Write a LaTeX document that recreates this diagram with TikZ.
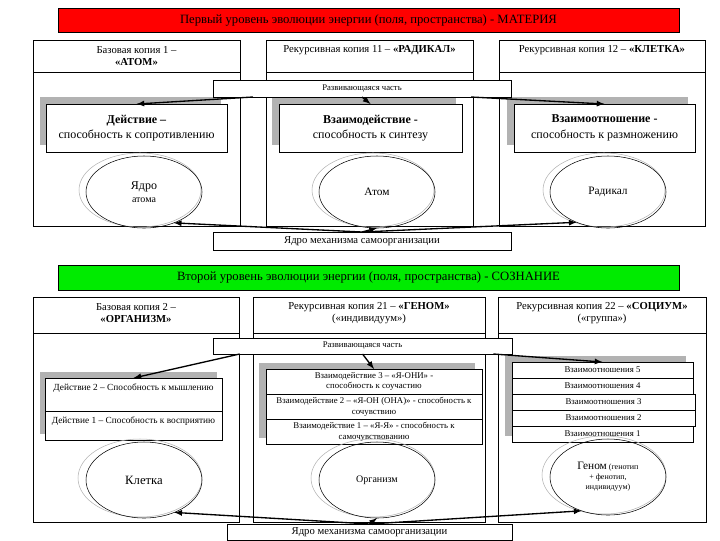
\documentclass[tikz,border=0pt]{standalone}
\usepackage{fontspec}
\setmainfont{Liberation Serif}
\usetikzlibrary{shapes.geometric}

\begin{document}
\begin{tikzpicture}[x=0.75pt,y=-0.75pt,
  box/.style={draw, fill=white, inner sep=0pt, outer sep=0pt, align=center},
  shade/.style={fill=black!30},
  halo/.style={draw=black!30},
  oval/.style={draw, ellipse, inner sep=0pt, outer sep=0pt, align=center,
    minimum width=116*0.75pt, minimum height=72*0.75pt},
  link/.style={-latex, line width=1pt},
  txt/.style={inner sep=0pt, align=center}]
\useasboundingbox (0,0) rectangle (720,540);

% First level
\node[box, fill=red, minimum width=621*0.75pt, minimum height=24*0.75pt,
  font=\fontsize{9.5}{11}\selectfont] (lev1) at (368.5,20)
  {Первый уровень эволюции энергии (поля, пространства) - МАТЕРИЯ};

% Columns
\draw (33,40) rectangle (240,226) (33,72) -- (240,72);
\draw (266,40) rectangle (473,226) (266,72) -- (473,72);
\draw (499,40) rectangle (705,226) (499,72) -- (705,72);

\node[txt, font=\fontsize{8}{9.5}\selectfont] (h1) at (136.5,56) {Базовая копия 1 –\\\textbf{«АТОМ»}};
\node[txt, font=\fontsize{8}{9.5}\selectfont] (h11) at (369.5,50) {Рекурсивная копия 11 – \textbf{«РАДИКАЛ»}};
\node[txt, font=\fontsize{8}{9.5}\selectfont] (h12) at (602,50) {Рекурсивная копия 12 – \textbf{«КЛЕТКА»}};

% Action boxes
\fill[shade] (40,97) rectangle (221,145);
\fill[shade] (272,97) rectangle (456,145);
\fill[shade] (507,97) rectangle (688,145);
\node[box, minimum width=181*0.75pt, minimum height=48*0.75pt, font=\fontsize{9}{11.5}\selectfont] (act1) at (136.5,128)
  {\textbf{Действие –}\\способность к сопротивлению};
\node[box, minimum width=183*0.75pt, minimum height=48*0.75pt, font=\fontsize{9}{11.5}\selectfont] (act2) at (370.5,128)
  {\textbf{Взаимодействие -}\\способность к синтезу};
\node[box, minimum width=181*0.75pt, minimum height=48*0.75pt, font=\fontsize{9}{11.5}\selectfont] (act3) at (604.5,128)
  {\textbf{Взаимоотношение -}\\способность к размножению};

\node[box, minimum width=298*0.75pt, minimum height=17*0.75pt, font=\fontsize{6.5}{8}\selectfont] (dev1) at (362,88.5)
  {Развивающаяся часть};

% Ellipses
\draw[halo] (140,190) ellipse (61 and 37);
\draw[halo] (373,190) ellipse (61 and 37);
\draw[halo] (604,190) ellipse (61 and 37);
\node[oval, font=\fontsize{9}{10}\selectfont] (el1) at (144,192) {Ядро\\\fontsize{7.5}{9}\selectfont атома};
\node[oval, font=\fontsize{8.5}{10}\selectfont] (el2) at (377,192) {Атом};
\node[oval, font=\fontsize{8.5}{10}\selectfont] (el3) at (608,192) {Радикал};

\node[box, minimum width=298*0.75pt, minimum height=18*0.75pt, font=\fontsize{8}{9}\selectfont] (core1) at (362,241)
  {Ядро механизма самоорганизации};

% Arrows
\draw[link] ([xshift=30pt]dev1.south west) -- (act1.north);
\draw[link] (dev1.south) -- (act2.north);
\draw[link] ([xshift=-30pt]dev1.south east) -- (act3.north);
\draw[link] (core1.north) -- (el1.-46);
\draw[link] (core1.north) -- (el2.south);
\draw[link] (core1.north) -- (el3.-136);

% Second level
\node[box, fill={rgb,255:red,0;green,235;blue,0}, minimum width=621*0.75pt, minimum height=25*0.75pt,
  font=\fontsize{9.5}{11}\selectfont] (lev2) at (368.5,277.5)
  {Второй уровень эволюции энергии (поля, пространства) - СОЗНАНИЕ};

% Columns
\draw (33,297) rectangle (239,522) (33,333) -- (239,333);
\draw (253,297) rectangle (485,522) (253,333) -- (485,333);
\draw (498,297) rectangle (706,522) (498,333) -- (706,333);

\node[txt, font=\fontsize{8}{9.5}\selectfont] (h2) at (136,313) {Базовая копия 2 –\\\textbf{«ОРГАНИЗМ»}};
\node[txt, font=\fontsize{8}{9.5}\selectfont] (h21) at (369,313) {Рекурсивная копия 21 – \textbf{«ГЕНОМ»}\\(«индивидуум»)};
\node[txt, font=\fontsize{8}{9.5}\selectfont] (h22) at (602,313) {Рекурсивная копия 22 – \textbf{«СОЦИУМ»}\\(«группа»)};

% Action boxes
\fill[shade] (40,372) rectangle (217,434);
\node[box, minimum width=177*0.75pt, minimum height=62*0.75pt] (act21) at (133.5,409) {};
\draw (45,411) -- (222,411);
\node[txt, font=\fontsize{7}{8}\selectfont] (d2) at (133.5,388) {Действие 2 – Способность к мышлению};
\node[txt, font=\fontsize{7}{8}\selectfont] (d1) at (133.5,421) {Действие 1 – Способность к восприятию};

\fill[shade] (259,363) rectangle (475,438);
\node[box, minimum width=216*0.75pt, minimum height=75*0.75pt] (act22) at (374,406.5) {};
\draw (266,394) -- (482,394) (266,419) -- (482,419);
\node[txt, font=\fontsize{6.6}{8}\selectfont] (i3) at (374,381.5) {Взаимодействие 3 – «Я-ОНИ» -\\способность к соучастию};
\node[txt, font=\fontsize{6.6}{8}\selectfont] (i2) at (374,406.5) {Взаимодействие 2 – «Я-ОН (ОНА)» - способность к\\сочувствию};
\node[txt, font=\fontsize{6.6}{8}\selectfont] (i1) at (374,431.5) {Взаимодействие 1 – «Я-Я» - способность к\\самочувствованию};

\fill[shade] (505,356) rectangle (686,436);
\node[box, minimum width=181*0.75pt, minimum height=16*0.75pt, font=\fontsize{6.6}{8}\selectfont] (r5) at (602.5,370) {Взаимоотношения 5};
\node[box, minimum width=181*0.75pt, minimum height=16*0.75pt, font=\fontsize{6.6}{8}\selectfont] (r4) at (602.5,386) {Взаимоотношения 4};
\node[box, minimum width=183*0.75pt, minimum height=16*0.75pt, font=\fontsize{6.6}{8}\selectfont] (r3) at (603.5,402) {Взаимоотношения 3};
\node[box, minimum width=183*0.75pt, minimum height=16*0.75pt, font=\fontsize{6.6}{8}\selectfont] (r2) at (603.5,418) {Взаимоотношения 2};
\node[box, minimum width=181*0.75pt, minimum height=16*0.75pt, font=\fontsize{6.6}{8}\selectfont] (r1) at (602.5,434) {Взаимоотношения 1};

\node[box, minimum width=299*0.75pt, minimum height=16*0.75pt, font=\fontsize{6.5}{8}\selectfont] (dev2) at (362.5,346)
  {Развивающаяся часть};

% Ellipses
\draw[halo] (140,478) ellipse (62 and 39);
\draw[halo] (373,478) ellipse (62 and 39);
\draw[halo] (604,475) ellipse (62 and 39);
\node[oval, minimum height=76*0.75pt, font=\fontsize{9.5}{11}\selectfont] (el21) at (144,480) {Клетка};
\node[oval, minimum height=76*0.75pt, font=\fontsize{7.5}{9}\selectfont] (el22) at (377,480) {Организм};
\node[oval, minimum height=76*0.75pt, font=\fontsize{6}{7.5}\selectfont] (el23) at (608,477)
  {{\fontsize{8.5}{9}\selectfont Геном} (генотип\\+ фенотип,\\индивидуум)};

\node[box, minimum width=285*0.75pt, minimum height=16*0.75pt, font=\fontsize{8}{9}\selectfont] (core2) at (369.5,532)
  {Ядро механизма самоорганизации};

% Arrows
\draw[link] ([xshift=20pt]dev2.south west) -- (act21.north);
\draw[link] (dev2.south) -- (act22.north);
\draw[link] ([xshift=-14pt]dev2.south east) -- (r5.north);
\draw[link] (core2.north) -- (el21.-47);
\draw[link] (core2.north) -- (el22.south);
\draw[link] (core2.north) -- (el23.-128);
\end{tikzpicture}
\end{document}
